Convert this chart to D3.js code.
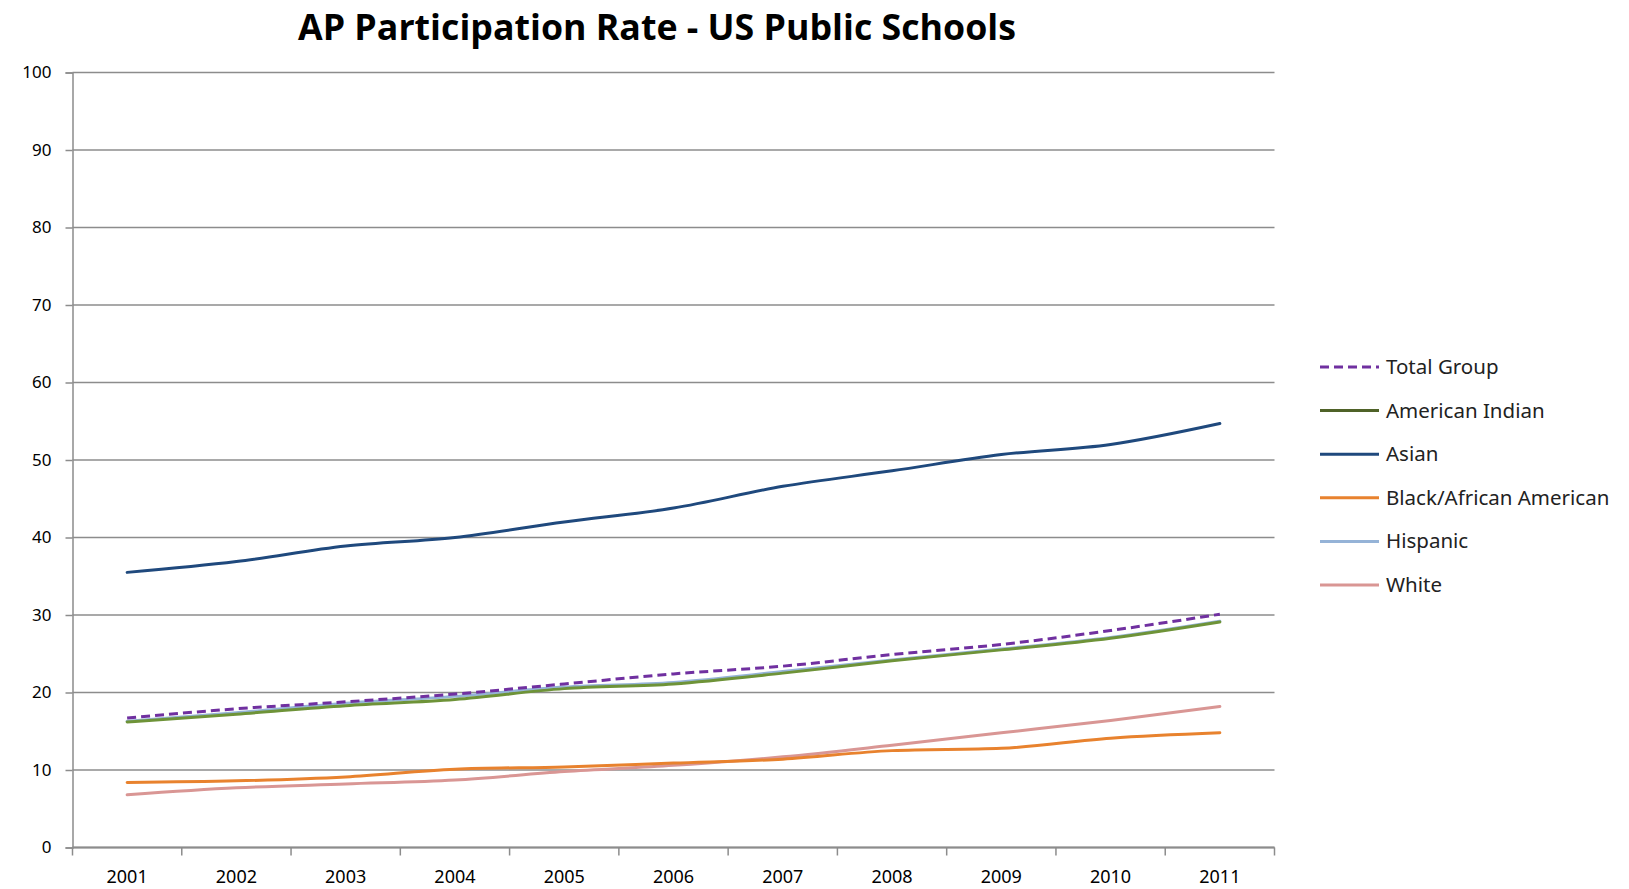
<!DOCTYPE html>
<html>
<head>
<meta charset="utf-8">
<script src="https://cdn.jsdelivr.net/npm/d3@7"></script>
<style>
  body { margin: 0; background: white; }
  text { font-family: "Liberation Sans Narrow", "Arial Narrow", "Noto Sans", sans-serif; fill: #000; }
</style>
</head>
<body>
<script>
// chart data
const years = ["2001","2002","2003","2004","2005","2006","2007","2008","2009","2010","2011"];
const yTicks = [0,10,20,30,40,50,60,70,80,90,100];

const totalGroup      = [16.7, 17.9, 18.8, 19.8, 21.1, 22.4, 23.4, 24.9, 26.2, 28.0, 30.1];
const americanIndian  = [16.2, 17.2, 18.3, 19.1, 20.5, 21.1, 22.5, 24.1, 25.5, 27.0, 29.1];
const asian           = [35.5, 36.9, 38.9, 40.0, 42.0, 43.8, 46.6, 48.6, 50.7, 52.0, 54.7];
const blackAfrAm      = [8.4, 8.6, 9.1, 10.1, 10.4, 10.9, 11.4, 12.5, 12.8, 14.1, 14.8];
const hispanic        = [16.3, 17.4, 18.6, 19.5, 20.7, 21.3, 22.7, 24.2, 25.6, 27.1, 29.2];
const white           = [6.8, 7.7, 8.2, 8.7, 9.8, 10.6, 11.7, 13.2, 14.8, 16.4, 18.2];

const seriesNames  = ["Total Group","American Indian","Asian","Black/African American","Hispanic","White"];
const seriesValues = [totalGroup, americanIndian, asian, blackAfrAm, hispanic, white];
const seriesColors = ["#7030A0","#6E9338","#1F497D","#E8822E","#95B3D7","#D99694"];
const legendColors = ["#7030A0","#4F6228","#1F497D","#E8822E","#95B3D7","#D99694"];
// drawing order (back to front)
const drawOrder = [4, 5, 3, 2, 1, 0];

const W = 1629, H = 889;
const plotLeft = 72.5, plotRight = 1274.5, plotTop = 72.5, plotBottom = 847.5;

const svg = d3.select("body").append("svg")
    .attr("width", W)
    .attr("height", H);

const x = d3.scaleBand()
    .domain(years)
    .range([plotLeft, plotRight]);

const y = d3.scaleLinear()
    .domain([0, 100])
    .range([plotBottom, plotTop]);

//title
svg.append("text")
    .attr("x", 298)
    .attr("y", 40)
    .attr("textLength", 718)
    .attr("lengthAdjust", "spacingAndGlyphs")
    .style("font-family", "'Open Sans', 'Noto Sans', sans-serif")
    .style("font-weight", "bold")
    .style("font-size", "35px")
    .text("AP Participation Rate - US Public Schools");

//horizontal gridlines
svg.append("g")
    .selectAll("line")
    .data(yTicks)
    .enter()
    .append("line")
    .attr("x1", plotLeft)
    .attr("x2", plotRight)
    .attr("y1", d => y(d))
    .attr("y2", d => y(d))
    .style("stroke", "#8c8c8c")
    .style("stroke-width", 1.5);

//y axis
const yAxis = svg.append("g")
    .attr("transform", "translate(" + plotLeft + ",0)")
    .call(d3.axisLeft(y).tickValues(yTicks).tickSize(7).tickPadding(14));
yAxis.select(".domain").style("stroke", "#8c8c8c").style("stroke-width", 1.5);
yAxis.selectAll(".tick line").style("stroke", "#8c8c8c").style("stroke-width", 1.5);
yAxis.selectAll(".tick text")
    .style("font-size", "17px")
    .style("font-family", "\"Liberation Sans Narrow\", \"Noto Sans\", sans-serif");

//x axis, ticks on category boundaries
const xAxisG = svg.append("g")
    .attr("transform", "translate(0," + plotBottom + ")");
xAxisG.append("line")
    .attr("x1", plotLeft)
    .attr("x2", plotRight)
    .style("stroke", "#8c8c8c")
    .style("stroke-width", 2);
xAxisG.selectAll(".bound")
    .data(years.concat(["end"]))
    .enter()
    .append("line")
    .attr("class", "bound")
    .attr("x1", (d, i) => plotLeft + i * x.bandwidth())
    .attr("x2", (d, i) => plotLeft + i * x.bandwidth())
    .attr("y1", 0)
    .attr("y2", 8)
    .style("stroke", "#8c8c8c")
    .style("stroke-width", 1.5);
xAxisG.selectAll(".lbl")
    .data(years)
    .enter()
    .append("text")
    .attr("class", "lbl")
    .attr("x", d => x(d) + x.bandwidth() / 2)
    .attr("y", 35)
    .attr("text-anchor", "middle")
    .style("font-size", "18px")
    .text(d => d);

//series lines
const line = d3.line()
    .x((d, i) => x(years[i]) + x.bandwidth() / 2)
    .y(d => y(d))
    .curve(d3.curveMonotoneX);

svg.append("g")
    .selectAll("path")
    .data(drawOrder)
    .enter()
    .append("path")
    .attr("d", k => line(seriesValues[k]))
    .style("fill", "none")
    .style("stroke", k => seriesColors[k])
    .style("stroke-width", 3)
    .style("stroke-linecap", k => k == 0 ? "butt" : "round")
    .style("stroke-dasharray", k => k == 0 ? "9,5" : null);

//legend
const legend = svg.append("g")
    .selectAll("g")
    .data(seriesNames)
    .enter()
    .append("g")
    .attr("transform", (d, i) => "translate(1320," + (367 + i * 43.6) + ")");

legend.append("line")
    .attr("x1", 0)
    .attr("x2", 59)
    .style("stroke", (d, i) => legendColors[i])
    .style("stroke-width", 3)
    .style("stroke-dasharray", (d, i) => i == 0 ? "9,5" : null);

legend.append("text")
    .attr("x", 66)
    .attr("y", 7)
    .style("font-size", "20.5px")
    .style("fill", "#222")
    .text(d => d);
</script>
</body>
</html>
